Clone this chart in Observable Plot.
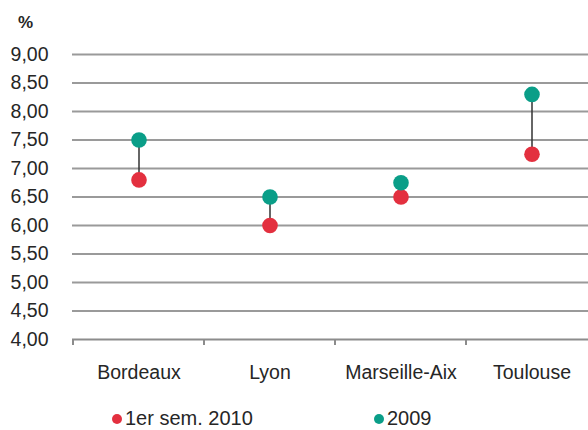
<!DOCTYPE html>
<html>
<head>
<meta charset="utf-8">
<script src="https://cdn.jsdelivr.net/npm/d3@7"></script>
<script src="https://cdn.jsdelivr.net/npm/@observablehq/plot@0.6"></script>
<style>
  html, body { margin: 0; padding: 0; background: #fff; overflow: hidden; }
  #wrap { position: relative; width: 588px; height: 430px; overflow: hidden; font-family: "Liberation Sans", Arial, sans-serif; color: #262626; }
  #unit { position: absolute; left: 18px; top: 13px; font-size: 17px; font-weight: bold; }
  #chart { position: absolute; left: 0; top: 0; width: 600px; }
  #chart svg { max-width: none !important; }
  .leg { position: absolute; top: 409px; width: 200px; height: 18px; font-size: 20px; line-height: 18px; white-space: nowrap; }
  .leg .dot { display: inline-block; width: 10px; height: 10px; border-radius: 50%; margin-right: 3px; vertical-align: 1px; }
</style>
</head>
<body>
<div id="wrap">
  <div id="chart"></div>
  <div id="unit">%</div>
  <div id="legend"></div>
</div>
<script>
const cities = ["Bordeaux", "Lyon", "Marseille-Aix", "Toulouse"];
const values2010 = [6.80, 6.00, 6.50, 7.25];
const values2009 = [7.50, 6.50, 6.75, 8.30];
const yTicks = [4, 4.5, 5, 5.5, 6, 6.5, 7, 7.5, 8, 8.5, 9];
const seriesNames = ["1er sem. 2010", "2009"];
const seriesColors = ["#e3303f", "#0a9e88"];

const rows = cities.map((c, i) => ({city: c, v2010: values2010[i], v2009: values2009[i]}));
const fmt = d => d3.format(".2f")(d).replace(".", ",");

function boundaryTicks(index, scales, values, dims) {
  const x = scales.x, y = scales.y;
  const bw = x.bandwidth();
  const xs = cities.map(c => x(c)).concat([x(cities[cities.length - 1]) + bw]);
  const y0 = y(4);
  const g = d3.create("svg:g");
  g.selectAll("line").data(xs).join("line")
    .attr("x1", d => d).attr("x2", d => d)
    .attr("y1", y0).attr("y2", y0 + 6)
    .attr("stroke", "#8c8c8c").attr("stroke-width", 2);
  return g.node();
}

const plot = Plot.plot({
  width: 600,
  height: 395,
  marginLeft: 72,
  marginRight: 2,
  marginTop: 54,
  marginBottom: 56,
  style: {fontFamily: "Liberation Sans, Arial, sans-serif", fontSize: "19.5px", color: "#262626", background: "transparent", maxWidth: "none"},
  x: {type: "band", domain: cities, padding: 0, label: null},
  y: {domain: [4, 9], label: null},
  marks: [
    Plot.ruleY(yTicks.filter(d => d > 4), {stroke: "#9a9a9a", strokeWidth: 2}),
    Plot.ruleY([4], {stroke: "#8c8c8c", strokeWidth: 2}),
    boundaryTicks,
    Plot.axisY({ticks: yTicks, tickFormat: fmt, tickSize: 0, tickPadding: 24, fontSize: 19.5, label: null}),
    Plot.axisX({tickSize: 0, tickPadding: 26, fontSize: 19.5, label: null}),
    Plot.ruleX(rows, {x: "city", y1: "v2010", y2: "v2009", stroke: "#333", strokeWidth: 1.5}),
    Plot.dot(rows, {x: "city", y: "v2010", r: 7.8, fill: seriesColors[0]}),
    Plot.dot(rows, {x: "city", y: "v2009", r: 7.8, fill: seriesColors[1]})
  ]
});
document.getElementById("chart").appendChild(plot);

const legendPos = [112, 374];
const legend = document.getElementById("legend");
seriesNames.forEach((name, i) => {
  const d = document.createElement("div");
  d.className = "leg";
  d.style.left = legendPos[i] + "px";
  d.innerHTML = `<span class="dot" style="background:${seriesColors[i]}"></span>${name}`;
  legend.appendChild(d);
});
</script>
</body>
</html>
